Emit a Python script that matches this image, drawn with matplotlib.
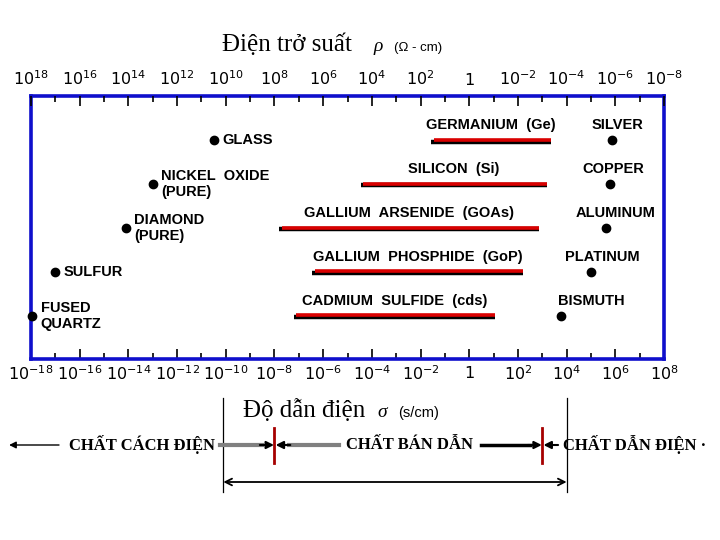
#!/usr/bin/env python3

import matplotlib; matplotlib.use('Agg')
import numpy as np
from matplotlib import pyplot as plt
from matplotlib.ticker import FixedLocator, NullFormatter

plt.rcParams.update({
    'font.family': ['Liberation Sans', 'DejaVu Sans'],
    'mathtext.fontset': 'dejavusans',
})

BLUE = (0.06, 0.06, 0.80)
RED = (0.85, 0.0, 0.0)
DARKRED = (0.65, 0.0, 0.0)
GRAY = (0.50, 0.50, 0.50)

# Data (log10 of conductivity in S/cm) ----------------------------------------
insulators = ['GLASS', 'NICKEL  OXIDE\n(PURE)', 'DIAMOND\n(PURE)', 'SULFUR', 'FUSED\nQUARTZ']
insulator_logsigma = [-10.5, -13.0, -14.1, -17.0, -17.95]
insulator_rows = [1, 2, 3, 4, 5]

semis = ['GERMANIUM  (Ge)', 'SILICON  (Si)', 'GALLIUM  ARSENIDE  (GOAs)',
         'GALLIUM  PHOSPHIDE  (GoP)', 'CADMIUM  SULFIDE  (cds)']
semi_low = [-1.55, -4.45, -7.8, -6.45, -7.2]
semi_high = [3.35, 3.2, 2.85, 2.2, 1.05]
semi_rows = [1, 2, 3, 4, 5]

metals = ['SILVER', 'COPPER', 'ALUMINUM', 'PLATINUM', 'BISMUTH']
metal_logsigma = [5.85, 5.8, 5.6, 5.0, 3.75]
metal_rows = [1, 2, 3, 4, 5]

class_bounds = [-8, 3]       # insulator | semiconductor | conductor
sigma_ticks = np.arange(-18, 9, 2)
rho_ticks = np.arange(18, -9, -2)

# Figure ---------------------------------------------------------------------
W, H = 720, 540
fig = plt.figure(figsize=(7.2, 5.4), dpi=100)

def box(l, t, r, b):
    return [l / W, 1 - b / H, (r - l) / W, (b - t) / H]

ax = fig.add_axes(box(31, 96, 664, 359))
ax.set_xscale('log')
ax.set_xlim(1e-18, 1e8)
ax.set_ylim(5.98, 0.0)
ax.set_yticks([])
for s in ax.spines.values():
    s.set_color(BLUE)
    s.set_linewidth(2.6)

def fmt(e):
    return '$1$' if e == 0 else '$10^{%d}$' % e

ax.xaxis.set_major_locator(FixedLocator(10.0 ** sigma_ticks))
ax.xaxis.set_minor_locator(FixedLocator(10.0 ** np.arange(-17, 8, 2)))
ax.xaxis.set_minor_formatter(NullFormatter())
ax.set_xticklabels([fmt(e) for e in sigma_ticks])
ax.tick_params(axis='x', which='major', direction='in', length=7, width=1.2,
               color='black', labelsize=11.5, pad=4)
ax.tick_params(axis='x', which='minor', direction='in', length=4, width=1.2,
               color='black')

top = ax.twiny()
top.set_xscale('log')
top.set_xlim(1e18, 1e-8)
top.xaxis.set_major_locator(FixedLocator(10.0 ** rho_ticks))
top.xaxis.set_minor_locator(FixedLocator(10.0 ** np.arange(17, -8, -2)))
top.xaxis.set_minor_formatter(NullFormatter())
top.set_xticklabels([fmt(e) for e in rho_ticks])
top.tick_params(axis='x', which='major', direction='in', length=7, width=1.2,
                color='black', labelsize=11.5, pad=6)
top.tick_params(axis='x', which='minor', direction='in', length=4, width=1.2,
                color='black')
for s in top.spines.values():
    s.set_visible(False)

lab = dict(fontsize=10.5, fontweight='bold', color='black')

# insulators: dot + label to the right
ax.plot(10.0 ** np.array(insulator_logsigma), insulator_rows, 'o',
        color='black', ms=6, clip_on=False, zorder=4)
for name, x, y in zip(insulators, insulator_logsigma, insulator_rows):
    ax.annotate(name, (10.0 ** x, y), xytext=(6, 0), textcoords='offset points',
                ha='left', va='center', linespacing=1.15, **lab)

# semiconductors: red range bars with dark shadow, label above
for name, lo, hi, y in zip(semis, semi_low, semi_high, semi_rows):
    ax.hlines(y + 0.035, 10.0 ** lo, 10.0 ** hi, color='black', lw=3.2, zorder=2)
    ax.hlines(y - 0.01, 10.0 ** (lo + 0.1), 10.0 ** hi, color=RED, lw=2.6, zorder=3)
    ax.text(10.0 ** ((lo + hi) / 2), y - 0.33, name, ha='center', va='center', **lab)

# metals: dot + label above
metal_dx = [4, 2, 7, 8, 22]
ax.plot(10.0 ** np.array(metal_logsigma), metal_rows, 'o', color='black', ms=6, zorder=4)
for name, x, y, dx in zip(metals, metal_logsigma, metal_rows, metal_dx):
    ax.annotate(name, (10.0 ** x, y), xytext=(dx, 11), textcoords='offset points',
                ha='center', va='center', **lab)

# titles
serif = ['Liberation Serif', 'DejaVu Serif']
fig.text(222 / W, 1 - 51 / H, 'Điện trở suất', family=serif, fontsize=18, va='baseline')
fig.text(373 / W, 1 - 51 / H, 'ρ', family=serif, style='italic', fontsize=14, va='baseline')
fig.text(394 / W, 1 - 51 / H, '(Ω - cm)', fontsize=9.5, va='baseline')
fig.text(243 / W, 1 - 417 / H, 'Độ dẫn điện', family=serif, fontsize=18, va='baseline')
fig.text(377 / W, 1 - 417 / H, 'σ', family=serif, style='italic', fontsize=14, va='baseline')
fig.text(398 / W, 1 - 417 / H, '(s/cm)', fontsize=10.5, va='baseline')

# classification row ---------------------------------------------------------
axb = fig.add_axes(box(31, 395, 664, 500))
axb.set_xscale('log')
axb.set_xlim(1e-18, 1e8)
axb.set_ylim(0, 1)
axb.axis('off')

def py(p):
    return (500 - p) / 105

def arrow(x0, x1, y, color='black', lw=1.0, style='-|>', ms=8):
    axb.annotate('', xy=(10.0 ** x1, y), xytext=(10.0 ** x0, y),
                 arrowprops=dict(arrowstyle=style, color=color, lw=lw,
                                 mutation_scale=ms, shrinkA=0, shrinkB=0),
                 annotation_clip=False)

yr = py(445)
b0, b1 = class_bounds
cls = dict(family=serif, fontweight='bold', fontsize=12, va='center')

# span brackets
for xe in (-10.1, 4.0):
    axb.plot([10.0 ** xe] * 2, [py(398), py(492)], color='black', lw=0.9)
arrow(-10.1, 4.0, py(482), style='<->', lw=1.3, ms=12)

arrow(-16.85, -18.9, yr, lw=1.0, ms=10)
axb.text(10.0 ** -10.45, yr, 'CHẤT CÁCH ĐIỆN', ha='right', **cls)

axb.plot([10.0 ** -10.25, 10.0 ** (b0 - 0.5)], [yr, yr], color=GRAY, lw=3)
arrow(b0 - 0.6, b0 - 0.02, yr, lw=1.5, ms=11)
axb.plot([10.0 ** -5.35, 10.0 ** (b0 + 0.6)], [yr, yr], color=GRAY, lw=3)
arrow(b0 + 0.65, b0 + 0.05, yr, lw=1.5, ms=11)
axb.text(10.0 ** -5.05, yr, 'CHẤT BÁN DẪN', ha='left', **cls)

axb.plot([10.0 ** 0.5, 10.0 ** (b1 - 0.5)], [yr, yr], color='black', lw=2.5)
arrow(b1 - 0.6, b1 - 0.02, yr, lw=1.5, ms=11)
arrow(b1 + 0.65, b1 + 0.05, yr, lw=1.5, ms=11)
axb.text(10.0 ** 3.85, yr, 'CHẤT DẪN ĐIỆN ·', ha='left', **cls)

for xb in class_bounds:
    axb.plot([10.0 ** xb] * 2, [py(428), py(463)], color=DARKRED, lw=2.0, zorder=5)

fig.savefig('out.png', dpi=100, facecolor='white')
plt.close(fig)
